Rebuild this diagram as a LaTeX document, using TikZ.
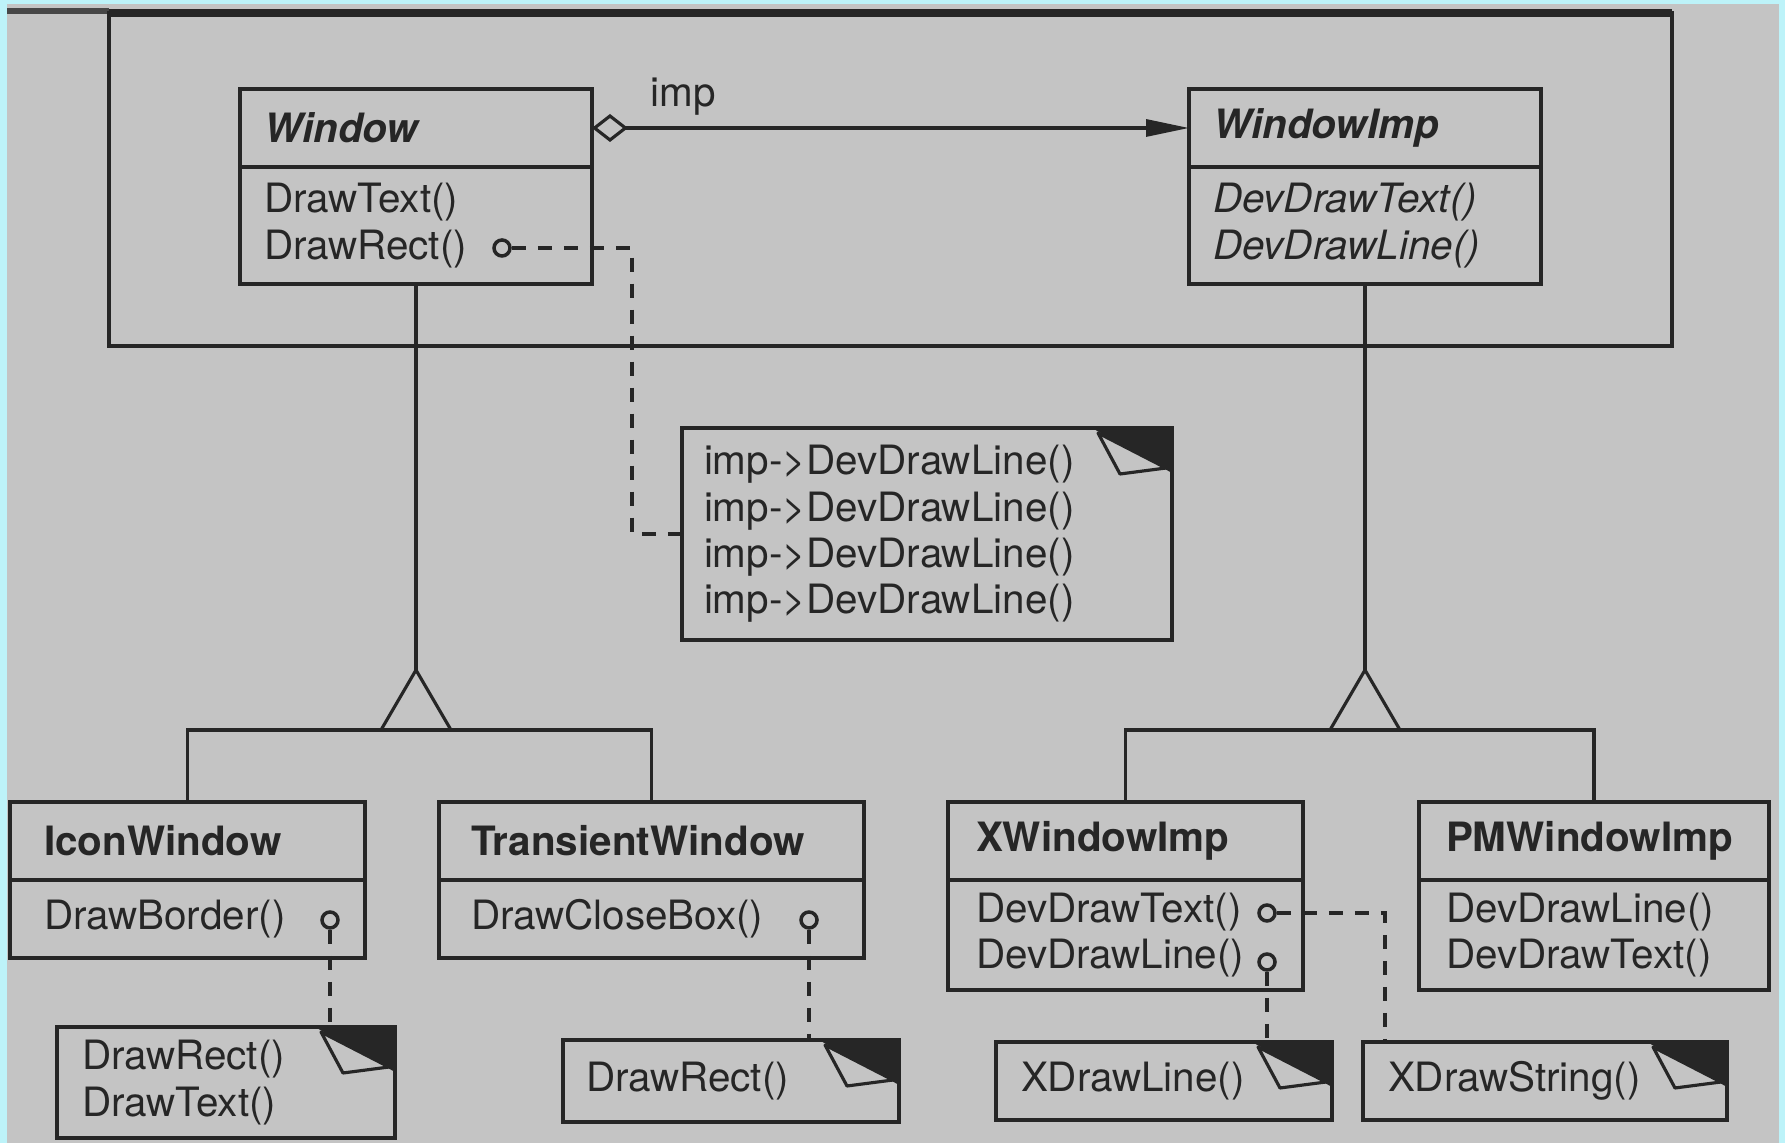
\documentclass[tikz,border=0pt]{standalone}
\usepackage{fontspec}
\setmainfont{TeX Gyre Heros}
\usetikzlibrary{arrows.meta,calc}

\definecolor{paper}{HTML}{C4C4C4}
\definecolor{scanedge}{HTML}{BDF3F9}
\definecolor{ink}{HTML}{262626}

\newcommand{\umlfont}{\fontsize{11.5}{13.2}\selectfont}
\newcommand{\earfold}[1]{% dog-ear in the top right corner of a note
  \fill[ink] ($(#1.north east)+(-80,0)$) -- (#1.north east) -- ($(#1.north east)+(0,45)$) -- cycle;
  \filldraw[fill=paper, draw=ink, line width=0.9pt, line join=round] ($(#1.north east)+(-74,5)$) -- ($(#1.north east)+(-52,46)$) -- ($(#1.north east)+(-6,40)$) -- cycle;
}

\tikzset{
  head/.style={draw=ink, line width=1.4pt, anchor=north west, outer sep=0pt, inner xsep=2.4mm, inner ysep=0pt, minimum height=7.8mm, align=left, text=ink, font=\umlfont\bfseries},
  abstract/.style={font=\umlfont\bfseries\itshape},
  body/.style={head, font=\umlfont},
  note/.style={draw=ink, line width=1.4pt, anchor=north west, outer sep=0pt, inner xsep=2.4mm, inner ysep=0pt, align=left, text=ink, font=\umlfont},
  knob/.style={circle, draw=ink, line width=1pt, fill=paper, inner sep=0pt, minimum size=1.6mm},
  dashline/.style={draw=ink, line width=1.3pt, dash pattern=on 1.4mm off 1.2mm},
  link/.style={draw=ink, line width=0.9pt},
}

\begin{document}
\begin{tikzpicture}[x=0.1mm, y=-0.1mm]
\useasboundingbox (0,0) rectangle (1785,1143);
\fill[scanedge] (0,0) rectangle (1785,1143);
\fill[paper] (7,4) rectangle (1779,1143);
\draw[ink!85, line width=1.6pt] (7,11) -- (109,11); % edge of the scanned page
\draw[ink, line width=1.3pt] (109,13) rectangle (1672,346); % frame round the two abstractions
\draw[ink, line width=2.2pt] (109,13) -- (1672,13);

% abstraction and implementor
\node[head, abstract, text width=30.4mm] (window) at (240,89) {Window};
\node[body, text width=30.4mm, minimum height=11.7mm] (windowbody) at (window.south west) {DrawText()\\DrawRect()};
\node[head, abstract, text width=30.4mm] (windowimp) at (1189,89) {WindowImp};
\node[body, font=\umlfont\itshape, text width=30.4mm, minimum height=11.7mm] (windowimpbody) at (windowimp.south west) {DevDrawText()\\DevDrawLine()};

% subclasses, left to right
\node[head, inner xsep=3.4mm, text width=28.7mm] (iconwin) at (10,802) {IconWindow};
\node[body, inner xsep=3.4mm, text width=28.7mm] (iconwinbody) at (iconwin.south west) {DrawBorder()};
\node[head, inner xsep=3.2mm, text width=36.1mm] (transwin) at (439,802) {TransientWindow};
\node[body, inner xsep=3.2mm, text width=36.1mm] (transwinbody) at (transwin.south west) {DrawCloseBox()};
\node[head, inner xsep=2.8mm, text width=29.9mm] (xwin) at (948,802) {XWindowImp};
\node[body, inner xsep=2.8mm, text width=29.9mm, minimum height=11mm] (xwinbody) at (xwin.south west) {DevDrawText()\\DevDrawLine()};
\node[head, inner xsep=2.7mm, text width=29.6mm] (pmwin) at (1419,802) {PMWindowImp};
\node[body, inner xsep=2.7mm, text width=29.6mm, minimum height=11mm] (pmwinbody) at (pmwin.south west) {DevDrawLine()\\DevDrawText()};

% notes
\node[note, inner xsep=2.2mm, text width=44.6mm, minimum height=21.2mm] (impnote) at (682,428) {imp->DevDrawLine()\\imp->DevDrawLine()\\imp->DevDrawLine()\\imp->DevDrawLine()};
\node[note, inner xsep=2.5mm, text width=28.8mm, minimum height=11.1mm] (iconnote) at (57,1027) {DrawRect()\\DrawText()};
\node[note, inner xsep=2.3mm, text width=29mm, minimum height=8.2mm] (transnote) at (563,1040) {DrawRect()};
\node[note, inner xsep=2.5mm, text width=28.6mm, minimum height=7.8mm] (xlinenote) at (996,1042) {XDrawLine()};
\node[note, inner xsep=2.5mm, text width=31.4mm, minimum height=7.8mm] (xstrnote) at (1363,1042) {XDrawString()};
\earfold{impnote}
\earfold{iconnote}
\earfold{transnote}
\earfold{xlinenote}
\earfold{xstrnote}

% imp association
\draw[link, {Diamond[open, length=3.6mm, width=2.8mm]}-{Triangle[length=4.3mm, width=1.7mm]}] (window.east) -- (windowimp.west);
\node[anchor=base west, text=ink, font=\umlfont] (implabel) at (638,107) {imp};

% inheritance
\coordinate (ltip) at ($(windowbody.south)+(0,386)$);
\coordinate (lbar) at ($(ltip)+(0,60)$);
\draw[link] (windowbody.south) -- (ltip);
\draw[link, line join=miter] (ltip) -- ++(-35,60) -- ++(70,0) -- cycle;
\draw[link] (iconwin.north) -- (iconwin.north |- lbar) -- (transwin.north |- lbar) -- (transwin.north);
\coordinate (rtip) at ($(windowimpbody.south)+(0,386)$);
\coordinate (rbar) at ($(rtip)+(0,60)$);
\draw[link] (windowimpbody.south) -- (rtip);
\draw[link, line join=miter] (rtip) -- ++(-35,60) -- ++(70,0) -- cycle;
\draw[link] (xwin.north) -- (xwin.north |- rbar) -- (pmwin.north |- rbar) -- (pmwin.north);

% operations and their notes
\node[knob] (wdr) at (502,248) {};
\node[knob] (idb) at (330,920) {};
\node[knob] (tcb) at (809,920) {};
\node[knob] (xdt) at (1267,913) {};
\node[knob] (xdl) at (1267,962) {};
\coordinate (wbend) at (632,248);
\coordinate (xbend) at (1385,913);
\draw[dashline] (wdr) -- (wbend) |- (impnote.west);
\draw[dashline] (idb) -- (idb |- iconnote.north);
\draw[dashline] (tcb) -- (tcb |- transnote.north);
\draw[dashline] (xdt) -- (xbend) -- (xbend |- xstrnote.north);
\draw[dashline] (xdl) -- (xdl |- xlinenote.north);
\end{tikzpicture}
\end{document}
